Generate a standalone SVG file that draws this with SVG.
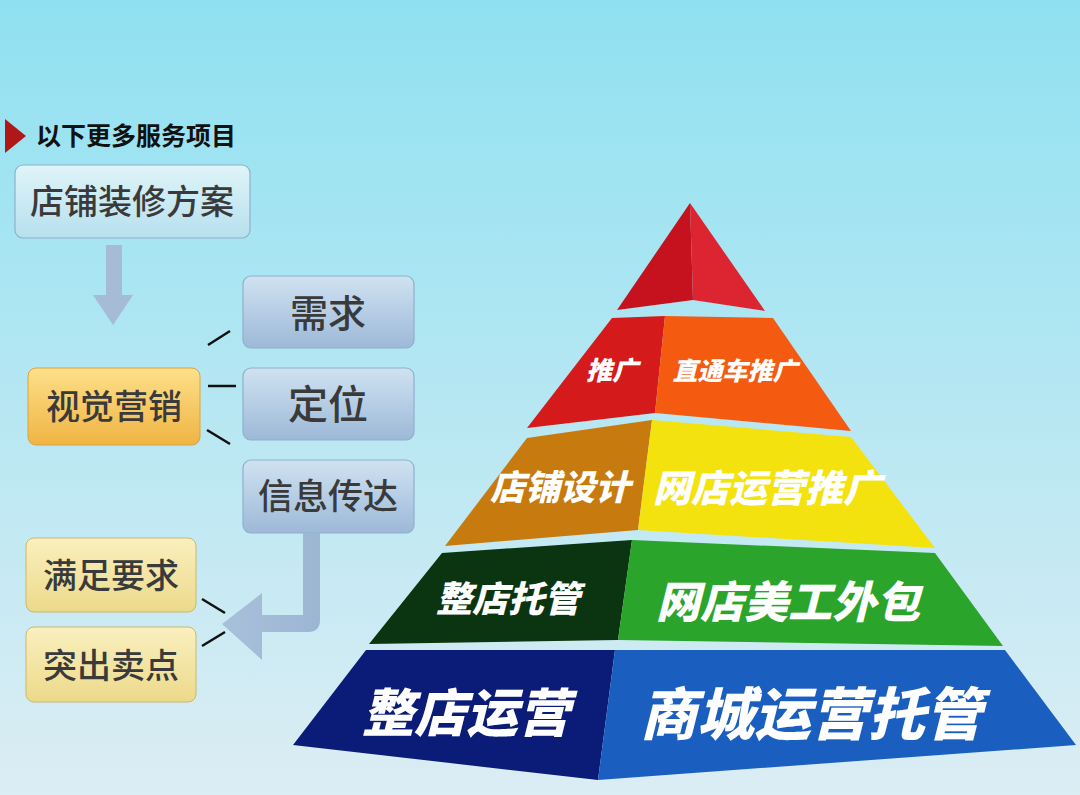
<svg xmlns="http://www.w3.org/2000/svg" width="1080" height="795" viewBox="0 0 1080 795">
<defs>
<linearGradient id="bg" x1="0" y1="0" x2="0" y2="1"><stop offset="0" stop-color="#8fe1f1"/><stop offset="1" stop-color="#dcedf4"/></linearGradient>
<linearGradient id="blu" x1="0" y1="0" x2="0" y2="1"><stop offset="0" stop-color="#cfe2f1"/><stop offset="1" stop-color="#9db9d8"/></linearGradient>
<linearGradient id="top" x1="0" y1="0" x2="0" y2="1"><stop offset="0" stop-color="#dff4f8"/><stop offset="1" stop-color="#b7e0ee"/></linearGradient>
<linearGradient id="org" x1="0" y1="0" x2="0" y2="1"><stop offset="0" stop-color="#fde08a"/><stop offset="1" stop-color="#f0b443"/></linearGradient>
<linearGradient id="yel" x1="0" y1="0" x2="0" y2="1"><stop offset="0" stop-color="#faf0bf"/><stop offset="1" stop-color="#ecd98a"/></linearGradient>
<linearGradient id="arw" x1="0" y1="0" x2="1" y2="0"><stop offset="0" stop-color="#a9c0da"/><stop offset="1" stop-color="#9cb5d3"/></linearGradient>
</defs>
<style>
.box{stroke:#8fb0cc;stroke-width:1.2}
.lt{font-family:"Noto Sans CJK SC",sans-serif;font-weight:500;fill:#3a3a3a;text-anchor:middle}
.pt{font-family:"Noto Sans CJK SC",sans-serif;font-weight:900;fill:#fff;text-anchor:middle;font-style:italic}
.ln{stroke:#111;stroke-width:2.5}
</style>
<rect width="1080" height="795" fill="url(#bg)"/>
<g id="title"><polygon points="5,119 26,136 5,153" fill="#b01818"/><text x="36" y="145" font-family="Noto Sans CJK SC,sans-serif" font-weight="700" font-size="25" fill="#111">以下更多服务项目</text></g>
<g id="n-plan"><rect class="box" x="15" y="165" width="235" height="73" rx="8" fill="url(#top)"/><text class="lt" x="132" y="214" font-size="34">店铺装修方案</text></g>
<g id="n-visual"><rect x="28" y="368" width="172" height="77" rx="8" fill="url(#org)" stroke="#d9a340"/><text class="lt" x="114" y="419" font-size="34">视觉营销</text></g>
<g id="n-need"><rect class="box" x="243" y="276" width="171" height="72" rx="8" fill="url(#blu)"/><text class="lt" x="328" y="327" font-size="38">需求</text></g>
<g id="n-pos"><rect class="box" x="243" y="368" width="171" height="72" rx="8" fill="url(#blu)"/><text class="lt" x="328" y="419" font-size="40">定位</text></g>
<g id="n-info"><rect class="box" x="243" y="460" width="171" height="73" rx="8" fill="url(#blu)"/><text class="lt" x="328" y="509" font-size="35">信息传达</text></g>
<g id="n-meet"><rect x="26" y="538" width="170" height="74" rx="8" fill="url(#yel)" stroke="#c9b870"/><text class="lt" x="111" y="588" font-size="34">满足要求</text></g>
<g id="n-sell"><rect x="26" y="627" width="170" height="75" rx="8" fill="url(#yel)" stroke="#c9b870"/><text class="lt" x="111" y="678" font-size="34">突出卖点</text></g>
<g id="connectors">
<polygon points="106,245 122,245 122,295 133,295 113,325 93,295 106,295" fill="#a5bbd6"/>
<path d="M303,533 H320 V620 Q320,632 308,632 H262 V660 L222,624 L262,593 V615 H303 Z" fill="url(#arw)"/>
<line class="ln" x1="208" y1="345" x2="230" y2="331"/>
<line class="ln" x1="208" y1="386" x2="236" y2="386"/>
<line class="ln" x1="207" y1="430" x2="230" y2="444"/>
<line class="ln" x1="202" y1="599" x2="225" y2="613"/>
<line class="ln" x1="202" y1="646" x2="225" y2="632"/>
</g>
<g id="pyramid">
<polygon points="690,203 617,310 693,300" fill="#c5121e"/>
<polygon points="690,203 693,300 765,311" fill="#dc2530"/>
<polygon points="612,318 665,316 655,413 527,428" fill="#d41a1a"/>
<polygon points="665,316 773,318 851,431 655,413" fill="#f45a10"/>
<polygon points="527,438 652,420 638,530 445,546" fill="#c77a0e"/>
<polygon points="652,420 851,437 935,548 638,530" fill="#f4e20e"/>
<polygon points="442,553 632,540 618,640 369,644" fill="#0b3410"/>
<polygon points="632,540 935,553 1003,646 618,640" fill="#2aa42a"/>
<polygon points="366,650 615,650 598,780 293,745" fill="#0b1c78"/>
<polygon points="615,650 1005,650 1076,745 598,780" fill="#1a5fc0"/>
<text class="pt" x="612" y="380" font-size="26">推广</text>
<text class="pt" x="735" y="380" font-size="25">直通车推广</text>
<text class="pt" x="560" y="500" font-size="35">店铺设计</text>
<text class="pt" x="767" y="502" font-size="38">网店运营推广</text>
<text class="pt" x="508" y="612" font-size="36">整店托管</text>
<text class="pt" x="788" y="618" font-size="44">网店美工外包</text>
<text class="pt" x="466" y="732" font-size="52">整店运营</text>
<text class="pt" x="811" y="735" font-size="57">商城运营托管</text>
</g>
</svg>
